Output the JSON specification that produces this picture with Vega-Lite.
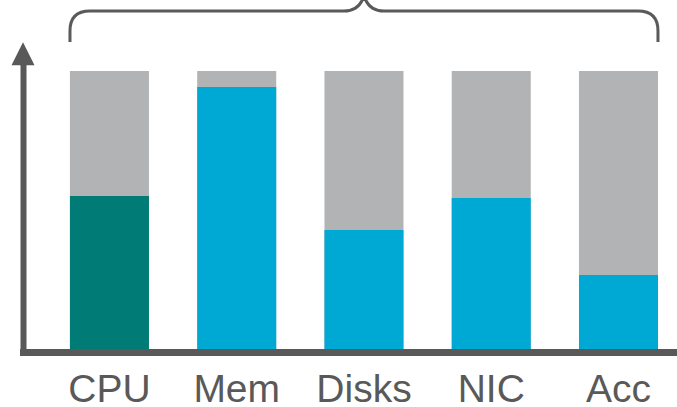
{
  "$schema": "https://vega.github.io/schema/vega-lite/v6.json",
  "autosize": "none",
  "width": 654,
  "height": 295,
  "padding": {"left": 23, "top": 57, "right": 0, "bottom": 55},
  "background": "white",
  "config": {"view": {"stroke": null}},
  "datasets": {
    "bars": [
      {"cat": "CPU", "used": 55.5, "total": 100},
      {"cat": "Mem", "used": 94.3, "total": 100},
      {"cat": "Disks", "used": 43.4, "total": 100},
      {"cat": "NIC", "used": 54.8, "total": 100},
      {"cat": "Acc", "used": 27.4, "total": 100}
    ],
    "brace": [{"cat": "Disks", "lvl": 110.3}],
    "arrow": [{"pos": 0, "lvl": 106.2}]
  },
  "layer": [
    {
      "encoding": {
        "x": {
          "field": "cat",
          "type": "nominal",
          "sort": ["CPU", "Mem", "Disks", "NIC", "Acc"],
          "scale": {"domain": ["CPU", "Mem", "Disks", "NIC", "Acc"], "paddingInner": 0.379, "paddingOuter": 0.259, "align": 0.712},
          "axis": {
            "title": null,
            "ticks": false,
            "domainColor": "#595959",
            "domainWidth": 7,
            "domainCap": "square",
            "labelFont": "Liberation Sans",
            "labelFontSize": 39,
            "labelColor": "#595959",
            "labelAngle": 0,
            "labelBaseline": "alphabetic",
            "labelPadding": 49,
            "zindex": 1
          }
        }
      },
      "layer": [
        {
          "data": {"name": "bars"},
          "mark": {"type": "bar", "color": "#b2b3b5"},
          "encoding": {
            "y": {
              "field": "total",
              "type": "quantitative",
              "scale": {"domain": [0, 105], "nice": false, "zero": true},
              "axis": {
                "title": null,
                "labels": false,
                "ticks": false,
                "grid": false,
                "domainColor": "#595959",
                "domainWidth": 6,
                "domainCap": "square",
                "zindex": 1
              }
            }
          }
        },
        {
          "data": {"name": "bars"},
          "mark": {"type": "bar"},
          "encoding": {
            "y": {"field": "used", "type": "quantitative"},
            "color": {
              "field": "cat",
              "type": "nominal",
              "scale": {"domain": ["CPU", "Mem", "Disks", "NIC", "Acc"], "range": ["#007b76", "#00a8d4", "#00a8d4", "#00a8d4", "#00a8d4"]},
              "legend": null
            }
          }
        },
        {
          "data": {"name": "brace"},
          "mark": {
            "type": "point",
            "shape": "M-1,0L-1,-0.0374Q-1,-0.1054,-0.932,-0.1054L-0.068,-0.1054Q-0.017,-0.1054,0,-0.1565Q0.017,-0.1054,0.068,-0.1054L0.932,-0.1054Q1,-0.1054,1,-0.0374L1,0",
            "filled": false,
            "stroke": "#5a5a5a",
            "strokeWidth": 3,
            "opacity": 1,
            "size": 345744
          },
          "encoding": {
            "y": {"field": "lvl", "type": "quantitative"}
          }
        }
      ]
    },
    {
      "data": {"name": "arrow"},
      "mark": {
        "type": "point",
        "shape": "M0,-1L1,1L-1,1Z",
        "filled": true,
        "fill": "#595959",
        "strokeWidth": 0,
        "opacity": 1,
        "size": 529
      },
      "encoding": {
        "x": {"field": "pos", "type": "quantitative", "scale": {"domain": [0, 1]}, "axis": null},
        "y": {"field": "lvl", "type": "quantitative"}
      }
    }
  ],
  "resolve": {"scale": {"x": "independent"}, "axis": {"x": "independent"}}
}
